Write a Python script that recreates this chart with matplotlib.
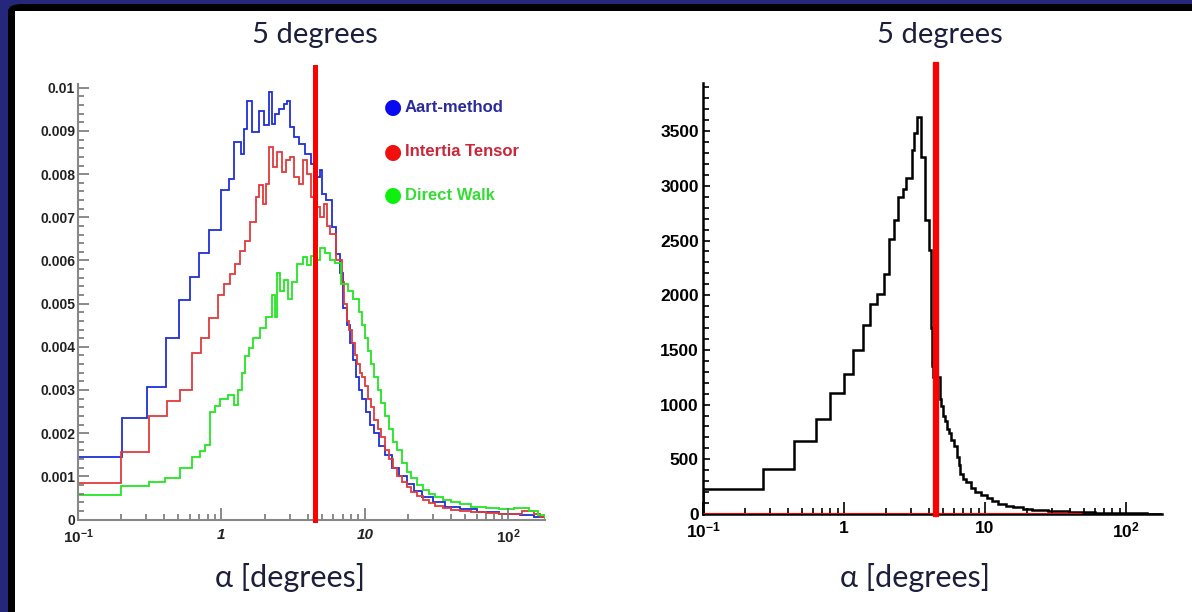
import numpy as np
import matplotlib
matplotlib.use('Agg')
import matplotlib.pyplot as plt
from matplotlib.patches import Rectangle, FancyBboxPatch
from matplotlib.ticker import FixedLocator, FixedFormatter, LogLocator, MultipleLocator, NullFormatter

plt.rcParams['mathtext.fontset'] = 'custom'
plt.rcParams['mathtext.rm'] = 'Liberation Sans:bold'
plt.rcParams['mathtext.it'] = 'Liberation Sans:bold'
plt.rcParams['mathtext.bf'] = 'Liberation Sans:bold'

# ---- left panel: normalised alpha distributions ----
blue_edges = [0.1, 0.202, 0.305, 0.408, 0.506, 0.60, 0.70, 0.82, 1.0, 1.13, 1.22, 1.36, 1.44,
              1.51, 1.63, 1.82, 1.98, 2.13, 2.24, 2.38, 2.53, 2.72, 2.86, 2.99, 3.18, 3.48,
              3.82, 4.19, 4.46, 4.9, 5.05, 5.36, 5.88, 6.26, 6.65, 7.08, 7.5, 7.9, 8.25, 8.7,
              9.1, 9.6, 10.2, 10.9, 11.6, 12.5, 13.9, 15.5, 17.3, 19.5, 22.1, 25, 30, 36, 46,
              60, 86, 120, 150, 180]
blue_vals = [0.00145, 0.00235, 0.00306, 0.0042, 0.00508, 0.00562, 0.00618, 0.0067, 0.00764,
             0.00789, 0.00874, 0.00847, 0.00905, 0.0097, 0.00897, 0.00947, 0.00913, 0.0099,
             0.00917, 0.0094, 0.00951, 0.00963, 0.0097, 0.00909, 0.00886, 0.0087, 0.00847,
             0.00824, 0.00793, 0.0081, 0.00755, 0.0074, 0.00677, 0.00616, 0.0057, 0.0049,
             0.0045, 0.0041, 0.0037, 0.0033, 0.0030, 0.0028, 0.0025, 0.0022, 0.0020, 0.0017,
             0.0015, 0.0012, 0.0010, 0.00082, 0.00065, 0.00052, 0.0004, 0.0003, 0.00024,
             0.00017, 0.00012, 0.0001, 0.00005]

red_edges = [0.1, 0.2, 0.315, 0.416, 0.516, 0.62, 0.72, 0.82, 0.94, 1.05, 1.15, 1.24, 1.34,
             1.47, 1.58, 1.75, 1.82, 1.94, 2.04, 2.13, 2.29, 2.44, 2.64, 2.81, 2.99, 3.18,
             3.48, 3.7, 3.93, 4.19, 4.46, 4.9, 5.2, 5.45, 5.7, 6.27, 6.9, 7.2, 7.5, 7.8, 8.1,
             8.5, 8.8, 9.2, 9.6, 10.0, 10.5, 11.0, 11.6, 12.3, 13.0, 13.8, 14.7, 15.7, 16.8,
             18.0, 19.5, 21, 23, 25.5, 28, 31, 35, 40, 46, 55, 70, 86, 110, 125, 150, 165, 180]
red_vals = [0.00085, 0.00156, 0.00239, 0.00275, 0.00301, 0.00386, 0.0042, 0.00467, 0.0052,
            0.00546, 0.00568, 0.00593, 0.00623, 0.00646, 0.00689, 0.00747, 0.00774, 0.00732,
            0.00778, 0.00862, 0.00816, 0.00851, 0.00805, 0.00832, 0.00839, 0.00793, 0.00778,
            0.00832, 0.008, 0.00747, 0.00724, 0.0070, 0.0073, 0.0068, 0.00662, 0.006,
            0.0055, 0.0050, 0.0046, 0.0044, 0.0041, 0.0038, 0.0036, 0.0034, 0.0033, 0.0031,
            0.0028, 0.0026, 0.0023, 0.0021, 0.0019, 0.0016, 0.0014, 0.0012, 0.0010, 0.00088,
            0.00076, 0.00064, 0.00054, 0.00045, 0.00038, 0.00032, 0.00027, 0.00023, 0.0002,
            0.00017, 0.00014, 0.00012, 0.00013, 0.0002, 0.00012, 0.00005]

green_edges = [0.1, 0.2, 0.315, 0.404, 0.516, 0.62, 0.71, 0.77, 0.83, 0.90, 0.98, 1.11, 1.22,
               1.31, 1.38, 1.47, 1.56, 1.66, 1.86, 2.06, 2.26, 2.35, 2.45, 2.55, 2.72, 2.9,
               3.1, 3.38, 3.7, 3.95, 4.19, 4.5, 4.9, 5.3, 5.7, 6.2, 6.86, 7.6, 8.3, 9.06, 9.5,
               10.0, 10.5, 11.0, 11.6, 12.3, 13.0, 13.8, 14.7, 15.7, 16.8, 18.0, 19.5, 21, 23,
               25.5, 28, 31, 35, 40, 46, 55, 70, 86, 110, 140, 160, 180]
green_vals = [0.00056, 0.00077, 0.00087, 0.00096, 0.00119, 0.00145, 0.00158, 0.00172, 0.00248,
              0.00262, 0.00278, 0.00289, 0.00266, 0.00301, 0.00339, 0.00378, 0.00397, 0.0042,
              0.00444, 0.0047, 0.0052, 0.0047, 0.0057, 0.0053, 0.00555, 0.0051, 0.0055,
              0.00593, 0.00608, 0.0059, 0.0061, 0.0060, 0.0063, 0.00617, 0.0060, 0.00595,
              0.00545, 0.0053, 0.0051, 0.0048, 0.0045, 0.0042, 0.0039, 0.0036, 0.0033,
              0.0030, 0.0027, 0.0024, 0.0021, 0.0018, 0.0016, 0.0013, 0.0011, 0.00095,
              0.0008, 0.00068, 0.0006, 0.00052, 0.00045, 0.0004, 0.00035, 0.0003, 0.00027,
              0.00025, 0.00026, 0.0002, 0.0001]

legend_names = ['Aart-method', 'Intertia Tensor', 'Direct Walk']

# ---- right panel: counts ----
black_edges = [0.1, 0.265, 0.44, 0.63, 0.80, 1.0, 1.155, 1.365, 1.54, 1.72, 1.91, 2.09, 2.26,
               2.42, 2.64, 2.77, 3.02, 3.13, 3.29, 3.54, 3.77, 4.01, 4.16, 4.23, 4.3, 4.79,
               4.9, 5.0, 5.2, 5.41, 5.6, 5.74, 6.0, 6.3, 6.5, 6.7, 7.0, 7.34, 7.9, 8.56, 9.4,
               10.3, 11.3, 12.4, 14, 15.8, 18.5, 21.4, 28, 39.5, 60, 99, 140, 180]
black_vals = [231, 414, 670, 871, 1103, 1282, 1499, 1725, 1920, 2011, 2194, 2511, 2687, 2894,
              2968, 3068, 3327, 3479, 3631, 3260, 2687, 2413, 1700, 1350, 1250, 1050, 990,
              900, 850, 780, 740, 680, 620, 520, 450, 370, 320, 290, 240, 200, 170, 145, 120,
              95, 75, 60, 48, 38, 28, 18, 10, 5, 2]
zero_edges = [0.1, 49]
zero_vals = [0]

cut_deg = 4.5
title = '5 degrees'
xlabel = 'α [degrees]'
xtick_vals = [0.1, 1, 10, 100]
xtick_labels = ['$10^{-1}$', '1', '10', '$10^{2}$']

fig = plt.figure(figsize=(11.92, 6.12), dpi=100)
fig.patch.set_facecolor('#25287a')
fig.patches.append(FancyBboxPatch((8 / 1192, -0.1), 1.2, 1.1 - 4 / 612,
                                  boxstyle='round,pad=0,rounding_size=0.012',
                                  transform=fig.transFigure, facecolor='black',
                                  edgecolor='none', zorder=-10))
fig.patches.append(Rectangle((15 / 1192, -0.1), 1.2, 1.1 - 11 / 612,
                             transform=fig.transFigure, facecolor='white',
                             edgecolor='none', zorder=-9))

axL = fig.add_axes([78 / 1192, 1 - 519.5 / 612, 467 / 1192, 436 / 612])
axR = fig.add_axes([703 / 1192, 1 - 514 / 612, 459 / 1192, 431 / 612])

for ax in (axL, axR):
    ax.set_xscale('log')
    ax.set_xlim(0.1, 180)
    ax.patch.set_alpha(0)
    for s in ('top', 'right'):
        ax.spines[s].set_visible(False)
    ax.xaxis.set_major_locator(FixedLocator(xtick_vals))
    ax.xaxis.set_major_formatter(FixedFormatter(xtick_labels))
    ax.xaxis.set_minor_locator(LogLocator(base=10, subs=np.arange(2, 10)))
    ax.xaxis.set_minor_formatter(NullFormatter())
    ax.tick_params(axis='both', which='both', direction='in')
    ax.tick_params(axis='x', which='major', length=9)
    ax.tick_params(axis='x', which='minor', length=4.5)

# left panel
axL.stairs(blue_vals, blue_edges, color='#1f2fd8', lw=1.3)
axL.stairs(red_vals, red_edges, color='#e03a3a', lw=1.3)
axL.stairs(green_vals, green_edges, color='#22e622', lw=1.3)
axL.set_ylim(0, 0.0101)
axL.set_yticks([0, 0.001, 0.002, 0.003, 0.004, 0.005, 0.006, 0.007, 0.008, 0.009, 0.01])
axL.set_yticklabels(['0', '0.001', '0.002', '0.003', '0.004', '0.005', '0.006', '0.007',
                     '0.008', '0.009', '0.01'])
axL.yaxis.set_minor_locator(MultipleLocator(0.0002))
axL.tick_params(axis='y', which='major', length=8)
axL.tick_params(axis='y', which='minor', length=4)
axL.tick_params(axis='both', which='both', color='#777777', width=1.2)
for s in ('left', 'bottom'):
    axL.spines[s].set_color('#888888')
    axL.spines[s].set_linewidth(1.5)
for lab in axL.get_yticklabels():
    lab.set_fontfamily('Liberation Sans')
    lab.set_fontweight('bold')
    lab.set_fontsize(10)
    lab.set_color('#222222')
for lab in axL.get_xticklabels():
    lab.set_fontfamily('Liberation Sans')
    lab.set_fontweight('bold')
    lab.set_fontstyle('italic')
    lab.set_fontsize(11)
    lab.set_color('#222222')
axL.tick_params(axis='y', pad=2)
axL.tick_params(axis='x', pad=6)
axL.plot([cut_deg, cut_deg], [0, 0.01049], color='#ff0000', lw=3.6, clip_on=False, zorder=5)

# legend (drawn as text with round markers)
leg_colors = ['#0a0af0', '#f01010', '#10f010']
leg_text_colors = ['#2a2a9a', '#c8283a', '#33dd33']
leg_y = [107, 152, 195]
for name, c, tc, yy in zip(legend_names, leg_colors, leg_text_colors, leg_y):
    fig.text(393 / 1192, 1 - yy / 612, '●', color=c, fontsize=15, ha='center', va='center',
             family='DejaVu Sans')
    fig.text(405 / 1192, 1 - yy / 612, name, color=tc, fontsize=12, ha='left', va='center',
             family='Liberation Sans', fontweight='bold')

# right panel
axR.stairs(zero_vals, zero_edges, color='#ff0000', lw=2.2, zorder=4)
axR.stairs(black_vals, black_edges, color='black', lw=1.8, zorder=3)
axR.set_ylim(0, 3940)
axR.set_yticks([0, 500, 1000, 1500, 2000, 2500, 3000, 3500])
axR.set_yticklabels(['0', '500', '1000', '1500', '2000', '2500', '3000', '3500'])
axR.yaxis.set_minor_locator(MultipleLocator(100))
axR.tick_params(axis='y', which='major', length=5)
axR.tick_params(axis='y', which='minor', length=4)
axR.tick_params(axis='both', which='both', color='black', width=1.2)
for s in ('left', 'bottom'):
    axR.spines[s].set_linewidth(1.8)
for lab in axR.get_yticklabels() + axR.get_xticklabels():
    lab.set_fontfamily('Liberation Sans')
    lab.set_fontweight('bold')
    lab.set_fontsize(12.5)
axR.tick_params(axis='y', pad=3)
axR.tick_params(axis='x', pad=5)
axR.plot([cut_deg, cut_deg], [0, 4104], color='#ff0000', lw=4.5, clip_on=False, zorder=5)

# titles and axis labels
for cx in (315, 940):
    fig.text(cx / 1192, 1 - 35 / 612, title, fontsize=21, ha='center', va='center',
             family=['Lato', 'DejaVu Sans'], color='#1b1f3b')
for cx in (290, 915):
    fig.text(cx / 1192, 1 - 578 / 612, xlabel, fontsize=22, ha='center', va='center',
             family=['Lato', 'DejaVu Sans'], color='#1b1f3b')

fig.savefig('out.png', dpi=100, facecolor=fig.get_facecolor())
